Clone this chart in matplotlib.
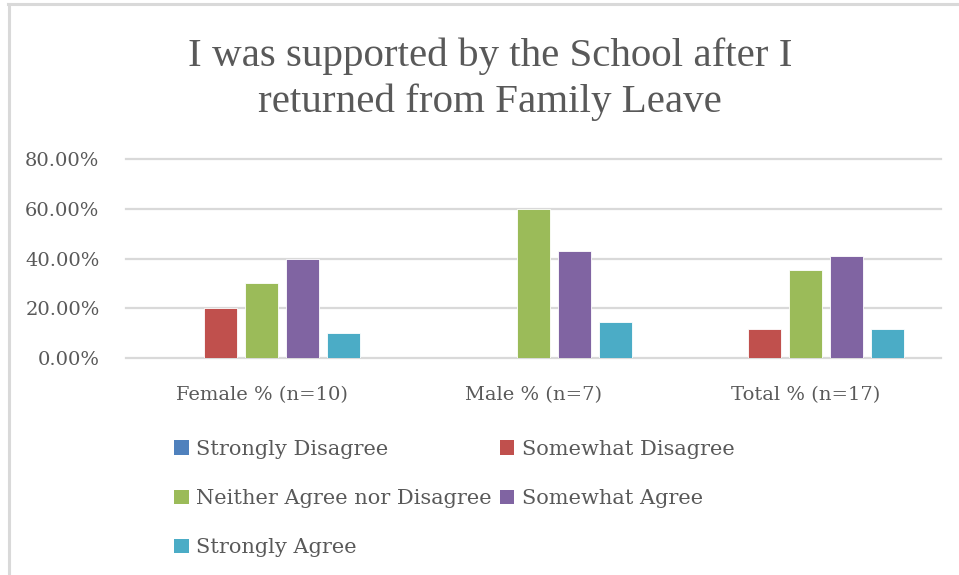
import numpy as np
import matplotlib
matplotlib.use("Agg")
import matplotlib.pyplot as plt
from matplotlib.patches import Patch
from matplotlib.lines import Line2D

## Survey data
groups = ["Female % (n=10)", "Male % (n=7)", "Total % (n=17)"]
responses = ["Strongly Disagree", "Somewhat Disagree", "Neither Agree nor Disagree",
             "Somewhat Agree", "Strongly Agree"]
strongly_disagree = [0.0, 0.0, 0.0]
somewhat_disagree = [20.0, 0.0, 11.76]
neither = [30.0, 60.0, 35.29]
somewhat_agree = [40.0, 42.86, 41.18]
strongly_agree = [10.0, 14.29, 11.76]
yticks = [0, 20, 40, 60, 80]

series = [strongly_disagree, somewhat_disagree, neither, somewhat_agree, strongly_agree]
colors = ["#4F81BD", "#C0504D", "#9BBB59", "#8064A2", "#4BACC6"]
txt = "#595959"
grid = "#D9D9D9"
plt.rcParams["font.family"] = ["DejaVu Serif"]

fig = plt.figure(figsize=(9.59, 5.75), dpi=100)
ax = fig.add_axes([126 / 959, 1 - 358 / 575, (941 - 126) / 959, (358 - 159) / 575])

x = np.arange(len(groups))
slot = 0.151
width = 0.122
for i, (vals, c) in enumerate(zip(series, colors)):
    ax.bar(x + (i - 2) * slot, vals, width, color=c, edgecolor="white",
           linewidth=0.6, label=responses[i], zorder=3)

ax.set_xlim(-0.5, 2.5)
ax.set_ylim(0, 80)
ax.set_yticks(yticks)
ax.set_yticklabels(["{:.2f}%".format(v) for v in yticks])
ax.set_xticks(x)
ax.set_xticklabels(groups)
ax.yaxis.grid(True, color=grid, linewidth=1.6, zorder=0)
for gl in ax.get_ygridlines():
    gl.set_clip_on(False)
ax.tick_params(axis="y", length=0, pad=19, labelsize=14, labelcolor=txt)
ax.tick_params(axis="x", length=0, pad=20, labelsize=14, labelcolor=txt)
for s in ax.spines.values():
    s.set_visible(False)

# Title, two lines centred over the chart
title_font = ["Liberation Serif", "DejaVu Serif"]
fig.text(490 / 959, 1 - 56 / 575, "I was supported by the School after I",
         ha="center", va="center", fontsize=29.5, color=txt, family=title_font)
fig.text(490 / 959, 1 - 102 / 575, "returned from Family Leave",
         ha="center", va="center", fontsize=29.5, color=txt, family=title_font)

# Legend filled row-wise across two columns
order = [0, 2, 4, 1, 3]
handles = [Patch(facecolor=colors[i], edgecolor="none") for i in order]
labels = [responses[i] for i in order]
fig.legend(handles, labels, ncol=2, loc="upper left",
           bbox_to_anchor=(174 / 959, 1 - 440 / 575), frameon=False,
           fontsize=15, labelcolor=txt, handlelength=0.7, handleheight=0.7,
           handletextpad=0.35, columnspacing=0.4, labelspacing=1.45,
           borderpad=0, borderaxespad=0)

# Chart area border (top and left edges)
fig.add_artist(Line2D([8 / 959, 1], [1 - 4 / 575, 1 - 4 / 575], color=grid,
                      linewidth=2.2, transform=fig.transFigure))
fig.add_artist(Line2D([9 / 959, 9 / 959], [0, 1 - 4 / 575], color=grid,
                      linewidth=2.2, transform=fig.transFigure))

fig.savefig("out.png", dpi=100, facecolor="white")
